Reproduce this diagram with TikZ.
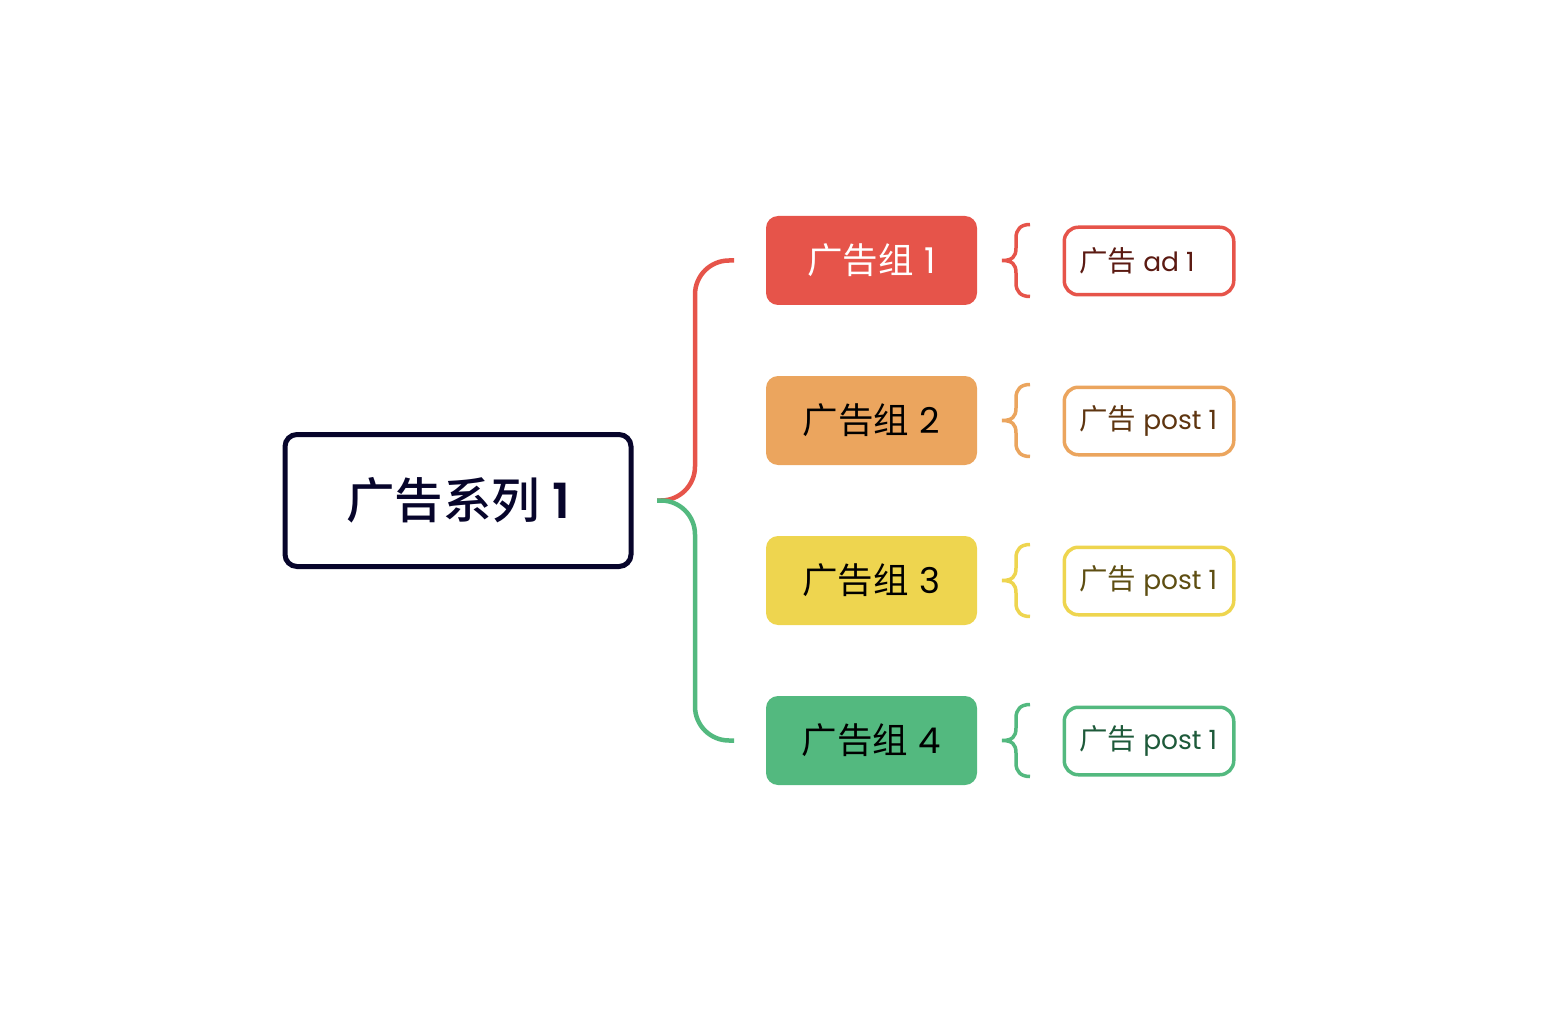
\documentclass[tikz,border=0pt]{standalone}
\usepackage{fontspec}
\newfontfamily\cjk{Noto Sans CJK SC}
\newfontfamily\cjkm{Noto Sans CJK SC Medium}
\newfontfamily\lat{Poppins}
\newfontfamily\latb{Poppins SemiBold}
\usetikzlibrary{calc}
\definecolor{cred}{HTML}{E6544A}
\definecolor{corange}{HTML}{EBA55E}
\definecolor{cyellow}{HTML}{EED54F}
\definecolor{cgreen}{HTML}{53B97F}
\definecolor{cnavy}{HTML}{07052B}
\definecolor{tred}{HTML}{5B1A12}
\definecolor{torange}{HTML}{5E3510}
\definecolor{tyellow}{HTML}{5E4E12}
\definecolor{tgreen}{HTML}{1E5A3A}
\newcommand{\leaftext}[1]{\makebox[139.5pt][l]{{\cjk 广告}\hspace{7pt}{\lat\fontsize{26.5}{34}\selectfont #1}}}
\tikzset{
  rootbox/.style={draw=cnavy, line width=5pt, rounded corners=12pt, fill=white,
    minimum width=346pt, minimum height=132pt, inner sep=0pt, outer sep=0pt,
    text=cnavy, font=\fontsize{48.5}{56}\selectfont},
  groupbox/.style={fill=#1, rounded corners=12pt, minimum width=211pt, minimum height=89pt,
    inner sep=0pt, outer sep=0pt, font=\fontsize{35.5}{40}\selectfont},
  leafbox/.style={draw=#1, line width=3.5pt, rounded corners=14pt, fill=white,
    minimum width=169.5pt, minimum height=67.5pt,
    inner xsep=15pt, inner ysep=0pt, outer sep=0pt, font=\fontsize{28.5}{34}\selectfont},
  branch/.style={line width=4.5pt, rounded corners=34pt, draw=#1},
  bracket/.style={line width=3.5pt, draw=#1},
}
\begin{document}
\begin{tikzpicture}[x=1pt, y=-1pt]
\useasboundingbox (0,0) rectangle (1556,1024);
\node[rootbox] (root) at (458,500.5) {{\cjkm 广告系列}\hspace{12pt}{\latb 1}};
\node[groupbox=cred, text=white] (g1) at (871.5,260.5) {{\cjk 广告组} {\lat 1}};
\node[groupbox=corange, text=black] (g2) at (871.5,420.5) {{\cjk 广告组} {\lat 2}};
\node[groupbox=cyellow, text=black] (g3) at (871.5,580.5) {{\cjk 广告组} {\lat 3}};
\node[groupbox=cgreen, text=black] (g4) at (871.5,740.5) {{\cjk 广告组} {\lat 4}};
\node[leafbox=cred, text=tred] (l1) at (1149,261) {\leaftext{ad 1}};
\node[leafbox=corange, text=torange] (l2) at (1149,421) {\leaftext{post 1}};
\node[leafbox=cyellow, text=tyellow] (l3) at (1149,581) {\leaftext{post 1}};
\node[leafbox=cgreen, text=tgreen] (l4) at (1149,741) {\leaftext{post 1}};
\coordinate (rs) at ($(root.east)+(26,0)$);
\draw[branch=cred] (rs) -- ++(38,0) |- ($(g1.west)+(-32,0)$);
\draw[branch=cgreen] (rs) -- ++(38,0) |- ($(g4.west)+(-32,0)$);
\foreach \i/\c in {1/cred,2/corange,3/cyellow,4/cgreen}{
  \coordinate (b\i) at ($(g\i.east)+(25,0)$);
  \draw[bracket=\c] ($(b\i)+(28,-36)$) .. controls +(-9,0) and +(0,-9) .. ++(-14,13.5)
    -- ++(0,10) .. controls +(0,9) and +(10,0) .. ++(-14,12.5)
    .. controls +(10,0) and +(0,-9) .. ++(14,12.5)
    -- ++(0,10) .. controls +(0,9) and +(-9,0) .. ++(14,13.5);
}
\end{tikzpicture}
\end{document}
